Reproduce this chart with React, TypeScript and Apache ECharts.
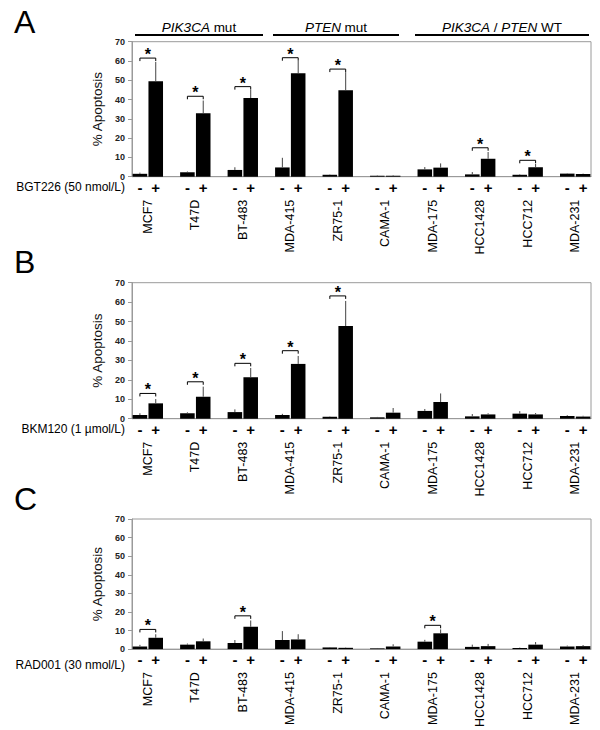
import React, { useEffect, useRef } from 'react';
import * as echarts from 'echarts';

const FONT = '"Liberation Sans", Arial, Helvetica, sans-serif';

const cellLines = ['MCF7', 'T47D', 'BT-483', 'MDA-415', 'ZR75-1', 'CAMA-1', 'MDA-175', 'HCC1428', 'HCC712', 'MDA-231'];

// Panel A – BGT226 (50 nmol/L)
const bgtMinus = [1.5, 2.3, 3.5, 4.8, 1.0, 0.5, 3.8, 1.2, 1.0, 1.6];
const bgtMinusErr = [0.6, 0.4, 1.4, 5.0, 0.2, 0.2, 1.2, 1.2, 0.3, 0.2];
const bgtPlus = [49.5, 32.9, 40.8, 53.6, 44.8, 0.5, 4.7, 9.3, 4.9, 1.4];
const bgtPlusErr = [10.0, 6.6, 4.2, 6.5, 9.4, 0.3, 2.2, 3.5, 1.7, 0.2];
const bgtSigGroups = [0, 1, 2, 3, 4, 7, 8];
const bgtSigHeights = [61.5, 41.7, 46.7, 61.7, 55.8, 15.0, 8.5];

// Panel B – BKM120 (1 µmol/L)
const bkmMinus = [1.9, 2.8, 3.4, 1.9, 1.0, 0.7, 4.0, 1.2, 2.6, 1.4];
const bkmMinusErr = [0.9, 0.5, 1.4, 0.6, 0.2, 0.2, 1.0, 1.2, 1.3, 0.4];
const bkmPlus = [7.9, 11.3, 21.3, 28.2, 47.7, 3.1, 8.6, 2.2, 2.2, 1.1];
const bkmPlusErr = [2.2, 5.2, 4.8, 4.1, 12.9, 2.4, 4.4, 0.6, 0.7, 0.4];
const bkmSigGroups = [0, 1, 2, 3, 4];
const bkmSigHeights = [13.0, 19.0, 28.5, 35.0, 63.2];

// Panel C – RAD001 (30 nmol/L)
const radMinus = [1.4, 2.4, 3.3, 4.9, 0.9, 0.4, 4.0, 1.2, 0.6, 1.4];
const radMinusErr = [0.9, 0.6, 1.6, 4.8, 0.2, 0.2, 1.0, 1.2, 0.2, 0.5];
const radPlus = [6.1, 4.2, 12.0, 5.2, 0.7, 1.4, 8.5, 1.6, 2.4, 1.6];
const radPlusErr = [1.9, 1.5, 3.4, 2.8, 0.2, 1.2, 2.1, 1.2, 1.4, 0.6];
const radSigGroups = [0, 2, 6];
const radSigHeights = [10.6, 17.9, 12.8];

const yTicks = { min: 0, max: 70, interval: 10 };

const panels = [
  { letter: 'A', treatment: 'BGT226 (50 nmol/L)', minus: bgtMinus, minusErr: bgtMinusErr, plus: bgtPlus, plusErr: bgtPlusErr, sigG: bgtSigGroups, sigH: bgtSigHeights, top: 41.7, h: 135, letterY: 6 },
  { letter: 'B', treatment: 'BKM120 (1 \u00b5mol/L)', minus: bkmMinus, minusErr: bkmMinusErr, plus: bkmPlus, plusErr: bkmPlusErr, sigG: bkmSigGroups, sigH: bkmSigHeights, top: 282.7, h: 136, letterY: 246 },
  { letter: 'C', treatment: 'RAD001 (30 nmol/L)', minus: radMinus, minusErr: radMinusErr, plus: radPlus, plusErr: radPlusErr, sigG: radSigGroups, sigH: radSigHeights, top: 519, h: 135, letterY: 483 },
];

const GRID_LEFT = 132;
const GRID_WIDTH = 459;
const FRAME = '#9a9a9a';

// 29 slots: "-", "+", gap per cell line (no trailing gap)
const nSlots = cellLines.length * 3 - 1;
const slotLabels = Array.from({ length: nSlots }, (_, k) => (k % 3 === 0 ? '-' : k % 3 === 1 ? '+' : ''));
// half-slot points for cell-line names, centred between the two bars
const nameSlots = Array.from({ length: nSlots * 2 + 1 }, (_, j) => (j % 6 === 2 ? cellLines[(j - 2) / 6] : ''));

function buildOption() {
  const grid: any[] = [];
  const xAxis: any[] = [];
  const yAxis: any[] = [];
  const series: any[] = [];
  const graphic: any[] = [];

  panels.forEach((p, i) => {
    grid.push({ left: GRID_LEFT, width: GRID_WIDTH, top: p.top, height: p.h, show: true, borderColor: FRAME, borderWidth: 1 });
    xAxis.push({
      type: 'category', gridIndex: i, position: 'bottom', data: slotLabels, boundaryGap: true,
      axisLine: { show: true, lineStyle: { color: FRAME, width: 1 } }, axisTick: { show: false },
      axisLabel: { interval: 0, margin: 3, fontSize: 15, fontWeight: 'bold', color: '#000', fontFamily: FONT },
    });
    xAxis.push({
      type: 'category', gridIndex: i, position: 'bottom', data: nameSlots, boundaryGap: false,
      axisLine: { show: false }, axisTick: { show: false }, splitLine: { show: false },
      axisLabel: { interval: 0, rotate: 90, margin: 23, fontSize: 12.5, color: '#000', fontFamily: FONT },
    });
    yAxis.push({
      type: 'value', gridIndex: i, min: yTicks.min, max: yTicks.max, interval: yTicks.interval,
      axisLine: { show: true, lineStyle: { color: FRAME } },
      axisTick: { show: true, length: 4, lineStyle: { color: FRAME } },
      axisLabel: { fontSize: 9, fontWeight: 'bold', color: '#222', margin: 7, fontFamily: FONT },
      splitLine: { show: false },
      name: '% Apoptosis', nameLocation: 'middle', nameGap: 28,
      nameTextStyle: { fontSize: 13.5, color: '#111', fontFamily: FONT },
    });

    const barData = slotLabels.map((_, k) => {
      const g = Math.floor(k / 3);
      const r = k % 3;
      return r === 0 ? p.minus[g] : r === 1 ? p.plus[g] : null;
    });
    series.push({
      type: 'bar', xAxisIndex: 2 * i, yAxisIndex: i, data: barData,
      barCategoryGap: '8%', itemStyle: { color: '#000' }, silent: true,
    });

    const errData: number[][] = [];
    cellLines.forEach((_, g) => {
      errData.push([3 * g, p.minus[g], p.minusErr[g]]);
      errData.push([3 * g + 1, p.plus[g], p.plusErr[g]]);
    });
    series.push({
      type: 'custom', xAxisIndex: 2 * i, yAxisIndex: i, data: errData,
      encode: { x: 0, y: 1 }, silent: true, z: 3,
      renderItem: (_params: any, api: any) => {
        const x = api.value(0);
        const v = api.value(1);
        const e = api.value(2);
        const p0 = api.coord([x, v]);
        const p1 = api.coord([x, v + e]);
        return {
          type: 'group',
          children: [
            { type: 'line', shape: { x1: p0[0], y1: p0[1], x2: p1[0], y2: p1[1] }, style: { stroke: '#444', lineWidth: 1 } },
          ],
        };
      },
    });

    const sigData = p.sigG.map((g, k) => [3 * g, 3 * g + 1, p.sigH[k]]);
    series.push({
      type: 'custom', xAxisIndex: 2 * i, yAxisIndex: i, data: sigData,
      encode: { x: [0, 1], y: 2 }, silent: true, z: 4,
      renderItem: (_params: any, api: any) => {
        const h = api.value(2);
        const pa = api.coord([api.value(0), h]);
        const pb = api.coord([api.value(1), h]);
        return {
          type: 'group',
          children: [
            {
              type: 'polyline',
              shape: { points: [[pa[0], pa[1] + 3], [pa[0], pa[1]], [pb[0], pb[1]], [pb[0], pb[1] + 3]] },
              style: { stroke: '#000', lineWidth: 1, fill: null },
            },
            {
              type: 'text', x: (pa[0] + pb[0]) / 2, y: pa[1] - 3.5,
              style: { text: '*', fontSize: 16, fontWeight: 'bold', fontFamily: FONT, fill: '#000', align: 'center', verticalAlign: 'middle' },
            },
          ],
        };
      },
    });

    graphic.push({
      type: 'text', x: 14, y: p.letterY,
      style: { text: p.letter, fontSize: 32, fontFamily: FONT, fill: '#000', align: 'left', verticalAlign: 'top', textAlign: 'left', textVerticalAlign: 'top' },
    });
    graphic.push({
      type: 'text', x: 125, y: p.top + p.h + 10.5,
      style: { text: p.treatment, fontSize: 12, fontFamily: FONT, fill: '#000', align: 'right', verticalAlign: 'middle', textAlign: 'right', textVerticalAlign: 'middle' },
    });
  });

  const headers = [
    { text: '{i|PIK3CA} mut', x1: 135, x2: 263 },
    { text: '{i|PTEN} mut', x1: 273, x2: 399 },
    { text: '{i|PIK3CA} / {i|PTEN} WT', x1: 415, x2: 589 },
  ];
  headers.forEach((hd) => {
    graphic.push({
      type: 'line', shape: { x1: hd.x1, y1: 35, x2: hd.x2, y2: 35 }, style: { stroke: '#000', lineWidth: 2 },
    });
    graphic.push({
      type: 'text', x: (hd.x1 + hd.x2) / 2, y: 27,
      style: {
        text: hd.text, fontSize: 13.5, fontFamily: FONT, fill: '#000',
        align: 'center', verticalAlign: 'middle', textAlign: 'center', textVerticalAlign: 'middle',
        rich: { i: { fontStyle: 'italic', fontSize: 13.5, fontFamily: FONT, fill: '#000' } },
      },
    });
  });

  return {
    animation: false,
    backgroundColor: '#fff',
    textStyle: { fontFamily: FONT },
    grid, xAxis, yAxis, series, graphic,
  };
}

export default function App() {
  const ref = useRef<HTMLDivElement>(null);
  useEffect(() => {
    if (!ref.current) return;
    const chart = echarts.init(ref.current, undefined, { renderer: 'svg' });
    chart.setOption(buildOption() as any);
    return () => chart.dispose();
  }, []);
  return <div ref={ref} style={{ position: 'absolute', left: 0, top: 0, width: 600, height: 730 }} />;
}
